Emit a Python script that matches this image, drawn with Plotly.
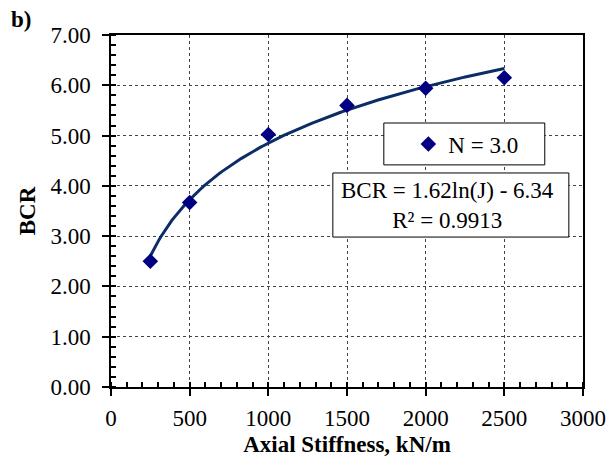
import numpy as np
import plotly.graph_objects as go

# Measured bearing capacity ratio vs. geogrid axial stiffness (N = 3.0)
stiffness = [250, 500, 1000, 1500, 2000, 2500]
bcr = [2.50, 3.67, 5.02, 5.60, 5.94, 6.15]

# Logarithmic trendline coefficients: BCR = a*ln(J) + b
fit_a = 1.62
fit_b = -6.34
fit_r2 = 0.9913

x_ticks = [0, 500, 1000, 1500, 2000, 2500, 3000]
y_ticks = [0, 1, 2, 3, 4, 5, 6, 7]

FONT = "Liberation Serif, Times New Roman, serif"
NAVY = "#000080"
LINE = "#0b2d66"

j = np.linspace(stiffness[0], stiffness[-1], 200)
fit = fit_a * np.log(j) + fit_b

fig = go.Figure()
fig.add_trace(go.Scatter(
    x=j, y=fit, mode="lines", line=dict(color=LINE, width=3),
    showlegend=False, hoverinfo="skip",
))
fig.add_trace(go.Scatter(
    x=stiffness, y=bcr, mode="markers", name="N = 3.0",
    marker=dict(symbol="diamond", size=12, color=NAVY),
))

# Boxes behind the legend and the trendline equation
fig.add_shape(type="rect", xref="paper", yref="paper",
              x0=0.578, x1=0.919, y0=0.631, y1=0.750,
              line=dict(color="black", width=1), fillcolor="white", layer="above")
fig.add_shape(type="rect", xref="paper", yref="paper",
              x0=0.470, x1=0.970, y0=0.426, y1=0.608,
              line=dict(color="black", width=1), fillcolor="white", layer="above")

fig.add_annotation(
    xref="paper", yref="paper", x=0.7119, y=0.517,
    text=f"BCR = {fit_a:.2f}ln(J) - {abs(fit_b):.2f}<br>R² = {fit_r2:.4f}",
    showarrow=False, font=dict(family=FONT, size=23, color="black"),
    align="center", xanchor="center", yanchor="middle",
)
fig.add_annotation(
    xref="paper", yref="paper", x=-0.19, y=1.043, text="<b>b)</b>",
    showarrow=False, font=dict(family=FONT, size=23, color="black"),
    xanchor="center", yanchor="middle",
)

axis_common = dict(
    showline=True, linecolor="black", linewidth=1.5, mirror=True,
    ticks="outside", ticklen=7, tickwidth=1.5, tickcolor="black",
    showgrid=True, gridcolor="#444444", griddash="dot", gridwidth=1,
    zeroline=False, tickfont=dict(family=FONT, size=23, color="black"),
)

fig.update_xaxes(
    range=[0, 3000], tickvals=x_ticks, ticktext=[str(v) for v in x_ticks],
    minor=dict(dtick=100, ticks="inside", ticklen=5, tickcolor="black", showgrid=False),
    ticklabelstandoff=3,
    title=dict(text="<b>Axial Stiffness, kN/m</b>", font=dict(family=FONT, size=23, color="black"), standoff=9),
    **axis_common,
)
fig.update_yaxes(
    range=[0, 7], tickvals=y_ticks, ticktext=[f"{v:.2f}" for v in y_ticks],
    minor=dict(dtick=0.2, ticks="inside", ticklen=5, tickcolor="black", showgrid=False),
    ticklabelstandoff=7,
    title=dict(text="<b>BCR</b>", font=dict(family=FONT, size=23, color="black"), standoff=8),
    **axis_common,
)

fig.update_layout(
    width=609, height=457,
    margin=dict(l=111, r=26, t=35, b=70, autoexpand=False),
    paper_bgcolor="white", plot_bgcolor="white",
    font=dict(family=FONT, size=23, color="black"),
    legend=dict(
        x=0.63, y=0.690, xanchor="left", yanchor="middle",
        bgcolor="rgba(0,0,0,0)", borderwidth=0,
        font=dict(family=FONT, size=23, color="black"),
        itemwidth=30,
    ),
)

fig.write_html("out.html")
